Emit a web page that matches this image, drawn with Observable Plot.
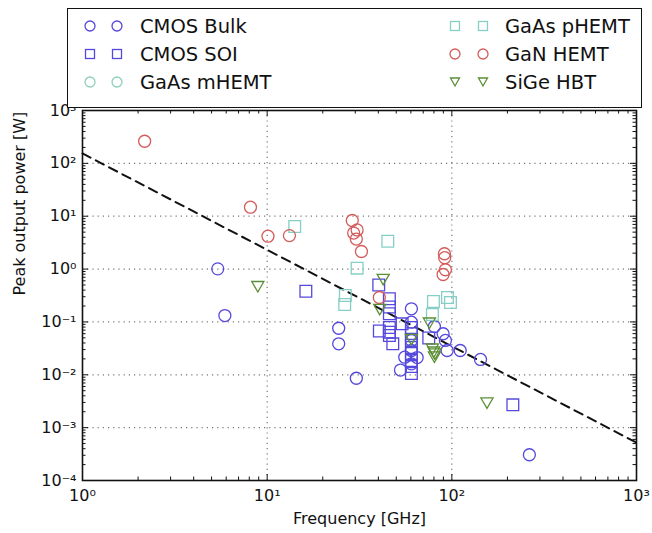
<!DOCTYPE html>
<html><head><meta charset="utf-8">
<script src="https://cdn.jsdelivr.net/npm/d3@7"></script>
<script src="https://cdn.jsdelivr.net/npm/@observablehq/plot@0.6"></script>
<style>
body{margin:0;background:#fff;font-family:"DejaVu Sans",sans-serif;}
#wrap{position:relative;width:652px;height:533px;}
#legend{position:absolute;left:67px;top:8px;width:575px;height:100px;border:1.5px solid #111;box-sizing:border-box;background:#fff;}
.item{position:absolute;height:24px;display:flex;align-items:center;font-size:19.5px;color:#111;white-space:nowrap;}
.item svg{position:absolute;top:0;}
.item span{position:absolute;}
</style></head><body><div id="wrap"><div id="legend"></div></div>
<script>
// ---- data (frequency GHz, peak output power W) ----
const seriesNames = ["CMOS Bulk", "CMOS SOI", "GaAs mHEMT", "GaAs pHEMT", "GaN HEMT", "SiGe HBT"];
const seriesColors = ["#5548dc", "#5548dc", "#8fd0bb", "#86cfc6", "#d45c5c", "#5b8f35"];
const seriesSymbols = ["circle", "square", "circle", "square", "circle", "triangle"];

const cmosBulk = [[5.4,1.01],[5.9,0.132],[24.4,0.076],[24.4,0.0386],[30.4,0.0086],[60.4,0.177],[60.4,0.099],
  [60.4,0.0446],[60.4,0.0288],[60.4,0.0161],[55.6,0.0215],[52.7,0.0123],[64.9,0.0212],[80.5,0.082],
  [89.7,0.0597],[92.3,0.0446],[94.3,0.0288],[111,0.0288],[143,0.0195],[263,0.000307]];
const cmosSoi = [[16.2,0.38],[40.2,0.50],[45.9,0.274],[45.9,0.192],[45.9,0.143],[40.5,0.0675],[45.9,0.0785],
  [45.9,0.064],[45.9,0.0555],[47.9,0.0385],[53.8,0.092],[60.4,0.0785],[60.4,0.060],[60.4,0.0446],
  [60.4,0.0328],[60.4,0.0253],[60.4,0.0186],[60.4,0.0143],[60.4,0.0106],[75,0.0497],[214,0.0027]];
const gaasMhemt = [];
const gaasPhemt = [[14.1,6.4],[45,3.37],[30.7,1.04],[26.5,0.316],[26.3,0.214],[79.5,0.244],[94.7,0.29],
  [98.3,0.233],[78.5,0.138]];
const ganHemt = [[2.17,262],[8.12,14.8],[10.1,4.19],[13.2,4.3],[28.9,8.3],[30.7,5.5],[29.4,4.8],[30.4,3.7],
  [32.4,2.15],[40.5,0.29],[91.2,1.95],[91.5,1.64],[92.3,0.97],[89.7,0.79]];
const sigeHbt = [[8.9,0.50],[42.5,0.68],[40.7,0.185],[60.4,0.05],[75.6,0.102],[79.8,0.0288],[78.5,0.0328],
  [80.5,0.0232],[81,0.0265],[155,0.00313]];
const seriesData = [cmosBulk, cmosSoi, gaasMhemt, gaasPhemt, ganHemt, sigeHbt];

const trendFreq = [1, 1000];
const trendPower = [154, 0.00052];

const xMajor = [1, 10, 100, 1000];
const yMajor = [1e-4, 1e-3, 1e-2, 1e-1, 1, 10, 100, 1000];
const xLabel = "Frequency [GHz]";
const yLabel = "Peak output power [W]";

// ---- layout ----
const W = 652, H = 533, mL = 82, mR = 16, mT = 110, mB = 53;
const iw = W - mL - mR, ih = H - mT - mB;
const sup = {"-":"⁻","0":"⁰","1":"¹","2":"²","3":"³","4":"⁴","5":"⁵","6":"⁶","7":"⁷","8":"⁸","9":"⁹"};
const fmt = d => "10" + String(Math.round(Math.log10(d))).split("").map(c => sup[c]).join("");
const minors = (majors) => majors.slice(0, -1).flatMap(m => [2,3,4,5,6,7,8,9].map(k => k * m));
const xMinor = minors(xMajor), yMinor = minors(yMajor);
const trend = trendFreq.map((f, i) => ({f, p: trendPower[i]}));

const dotMarks = seriesData.map((data, i) => Plot.dot(data, {
  x: d => d[0], y: d => d[1],
  symbol: seriesSymbols[i],
  r: seriesSymbols[i] === "triangle" ? 4.5 : (seriesSymbols[i] === "square" ? 6.6 : 6),
  rotate: seriesSymbols[i] === "triangle" ? 180 : 0,
  stroke: seriesColors[i], strokeWidth: 1.3, fill: "none"
}));

const majLen = 6, minLen = 3.5;
const plot = Plot.plot({
  width: W, height: H, marginLeft: mL, marginRight: mR, marginTop: mT, marginBottom: mB,
  style: {fontFamily: "DejaVu Sans, sans-serif", fontSize: "16px", color: "#111", background: "transparent"},
  x: {type: "log", domain: [1, 1000], axis: null},
  y: {type: "log", domain: [1e-4, 1000], axis: null},
  marks: [
    Plot.ruleX(xMajor.slice(1, -1), {stroke: "#777", strokeWidth: 1.2, strokeDasharray: "1.2,4"}),
    Plot.ruleY(yMajor.slice(1, -1), {stroke: "#777", strokeWidth: 1.2, strokeDasharray: "1.2,4"}),
    // inward ticks, all four sides
    Plot.ruleX(xMajor, {insetTop: ih - majLen, stroke: "#111"}),
    Plot.ruleX(xMajor, {insetBottom: ih - majLen, stroke: "#111"}),
    Plot.ruleX(xMinor, {insetTop: ih - minLen, stroke: "#111"}),
    Plot.ruleX(xMinor, {insetBottom: ih - minLen, stroke: "#111"}),
    Plot.ruleY(yMajor, {insetRight: iw - majLen, stroke: "#111"}),
    Plot.ruleY(yMajor, {insetLeft: iw - majLen, stroke: "#111"}),
    Plot.ruleY(yMinor, {insetRight: iw - minLen, stroke: "#111"}),
    Plot.ruleY(yMinor, {insetLeft: iw - minLen, stroke: "#111"}),
    Plot.axisX(xMajor, {tickSize: 0, tickPadding: 9, tickFormat: fmt, label: null, fontSize: 16}),
    Plot.axisY(yMajor, {tickSize: 0, tickPadding: 6, tickFormat: fmt, label: null, fontSize: 16}),
    Plot.text([xLabel], {frameAnchor: "bottom", dy: 43, text: d => d, fontSize: 16}),
    Plot.text([yLabel], {frameAnchor: "left", dx: -63, rotate: -90, text: d => d, fontSize: 16}),
    Plot.line(trend, {x: "f", y: "p", stroke: "#111", strokeWidth: 2, strokeDasharray: "9,6"}),
    ...dotMarks,
    Plot.frame({stroke: "#111", strokeWidth: 1.6})
  ]
});
document.getElementById("wrap").appendChild(plot);

// ---- legend (two markers per entry, two columns) ----
const legend = document.getElementById("legend");
const rowY = [5, 33, 61];
const colMarkX = [[22, 49], [387, 415]];
const colTextX = [72, 437];
seriesNames.forEach((name, i) => {
  const col = i < 3 ? 0 : 1, row = i % 3;
  const div = document.createElement("div");
  div.className = "item";
  div.style.left = "0px"; div.style.top = rowY[row] + "px"; div.style.width = "570px";
  const sym = seriesSymbols[i], c = seriesColors[i];
  let shapes = "";
  for (const mx of colMarkX[col]) {
    if (sym === "circle") shapes += `<circle cx="${mx}" cy="12" r="5" fill="none" stroke="${c}" stroke-width="1.3"/>`;
    else if (sym === "square") shapes += `<rect x="${mx-4.5}" y="7.5" width="9" height="9" fill="none" stroke="${c}" stroke-width="1.3"/>`;
    else shapes += `<path d="M${mx-4.5},8 L${mx+4.5},8 L${mx},16 Z" fill="none" stroke="${c}" stroke-width="1.3"/>`;
  }
  div.innerHTML = `<svg width="570" height="24" style="left:0">${shapes}</svg><span style="left:${colTextX[col]}px">${name}</span>`;
  legend.appendChild(div);
});
</script></body></html>
